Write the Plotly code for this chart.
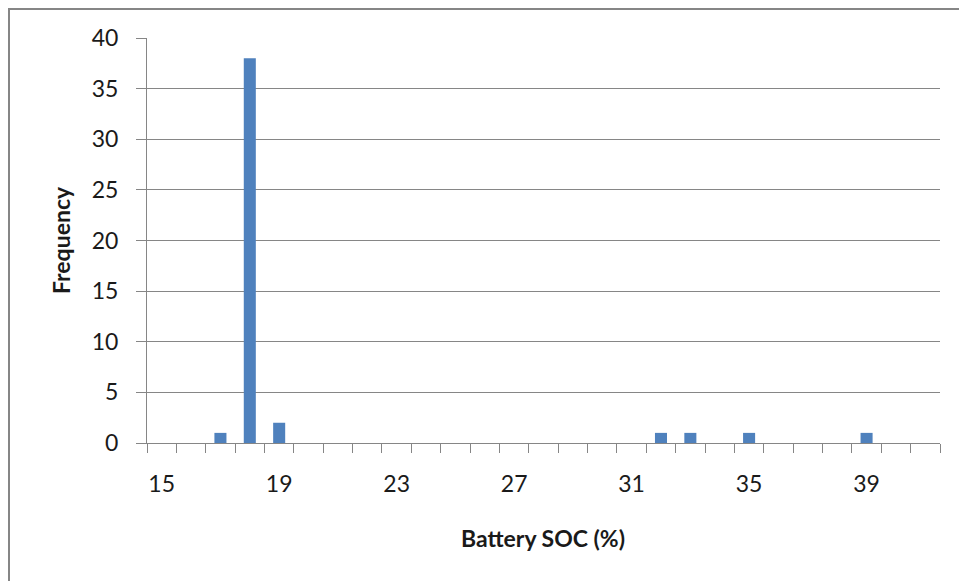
import plotly.graph_objects as go

categories = [str(v) for v in range(15, 42)]
frequency = [0, 0, 1, 38, 2, 0, 0, 0, 0, 0, 0, 0, 0, 0, 0, 0, 0, 1, 1, 0, 1, 0, 0, 0, 1, 0, 0]
tick_labels = ["15", "19", "23", "27", "31", "35", "39"]

ticktext = [c if c in tick_labels else "" for c in categories]

# page offset caused by the default 8px body margin
OFF = 8
W, H = 967, 581
L, R, T, B = 147 - OFF, W - (940 - OFF), 38 - OFF, H - (443 - OFF)
pw, ph = W - L - R, H - T - B

def px_x(x):
    return (x - OFF - L) / pw

def px_y(y):
    return (H - B - (y - OFF)) / ph

grey = "#868686"
font = "Lato, 'Open Sans', sans-serif"
fs = 23

fig = go.Figure(go.Bar(x=categories, y=frequency, marker=dict(color="#4F81BD", line=dict(width=0)),
                       width=0.41))

fig.update_layout(
    width=W, height=H,
    margin=dict(l=L, r=R, t=T, b=B, autoexpand=False),
    plot_bgcolor="white", paper_bgcolor="white",
    showlegend=False,
    font=dict(family=font, size=fs, color="#1a1a1a"),
)
fig.update_xaxes(
    type="category", categoryorder="array", categoryarray=categories,
    tickmode="array", tickvals=categories, ticktext=ticktext, tickangle=0,
    tickson="boundaries", ticks="outside", ticklen=9, tickcolor=grey, tickwidth=1,
    showline=True, linecolor=grey, linewidth=1, showgrid=False,
    ticklabelstandoff=20, range=[-0.5, len(categories) - 0.5],
    tickfont=dict(size=fs), automargin=False,
)
fig.update_yaxes(
    range=[0, 40], tickvals=[0, 5, 10, 15, 20, 25, 30, 35, 40],
    ticks="outside", ticklen=10, tickcolor=grey, tickwidth=1,
    showline=True, linecolor=grey, linewidth=1,
    showgrid=True, gridcolor=grey, gridwidth=1, zeroline=False,
    ticklabelstandoff=13, tickfont=dict(size=fs), automargin=False,
)
fig.add_annotation(text="<b>Frequency</b>", xref="paper", yref="paper",
                   x=px_x(61), y=px_y(240), textangle=-90, showarrow=False,
                   font=dict(size=fs), xanchor="center", yanchor="middle")
fig.add_annotation(text="<b>Battery SOC (%)</b>", xref="paper", yref="paper",
                   x=px_x(543), y=px_y(538), showarrow=False,
                   font=dict(size=fs), xanchor="center", yanchor="middle")
fig.add_shape(type="rect", xref="paper", yref="paper",
              x0=px_x(9), x1=px_x(1000), y0=px_y(620), y1=px_y(9),
              line=dict(color=grey, width=2), fillcolor="rgba(0,0,0,0)", layer="below")

fig.write_html("out.html")
